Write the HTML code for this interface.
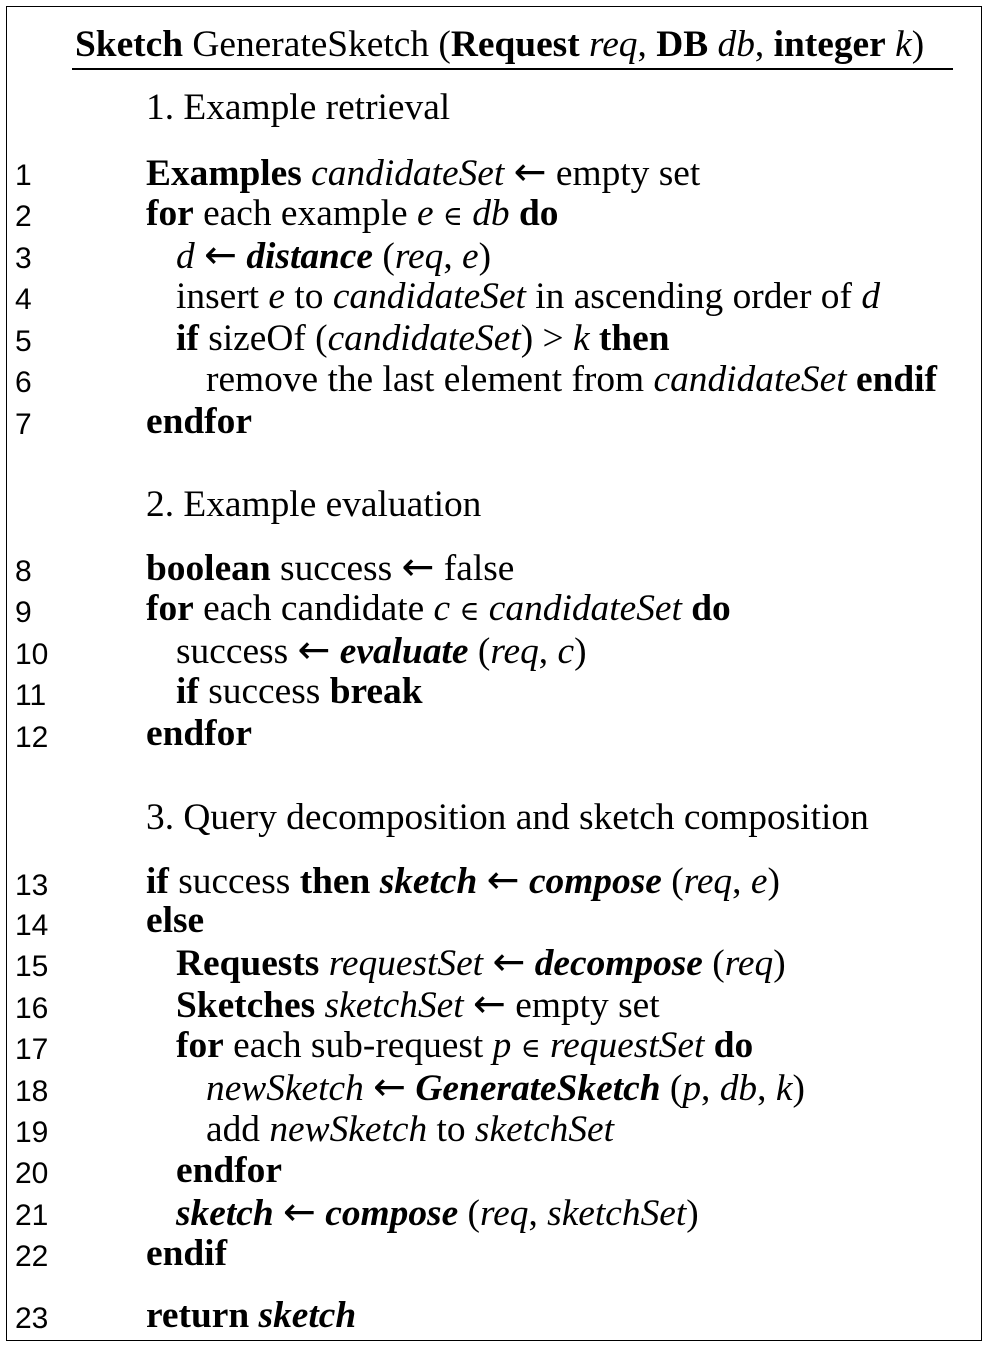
<!DOCTYPE html>
<html><head><meta charset="utf-8">
<style>
html,body{margin:0;padding:0;background:#fff;}
body{width:990px;height:1350px;position:relative;overflow:hidden;font-family:"Liberation Serif",serif;color:#000;}
#box{position:absolute;left:6px;top:6px;width:976px;height:1335px;border:1.5px solid #000;box-sizing:border-box;}
.t{position:absolute;white-space:nowrap;font-size:37.4px;line-height:40px;height:40px;}
.n{position:absolute;left:15px;font-family:"Liberation Sans",sans-serif;font-size:30px;line-height:40px;height:40px;}
#rule{position:absolute;left:72px;top:68px;width:881px;height:2px;background:#000;}
.a{font-family:"DejaVu Sans",sans-serif;font-weight:normal;font-style:normal;font-size:1.05em;line-height:1;}
.e{font-family:"DejaVu Serif",serif;font-style:normal;font-size:0.72em;line-height:1;}
</style></head><body>
<div id="box"></div>
<div class="t" style="left:75px;top:25px;"><b>Sketch</b> GenerateSketch (<b>Request</b> <i>req</i>, <b>DB</b> <i>db</i>, <b>integer</b> <i>k</i>)</div>
<div id="rule"></div>

<div class="t" style="left:146px;top:88px;">1. Example retrieval</div>
<div class="n" style="top:156px;">1</div>
<div class="t" style="left:146px;top:153px;"><b>Examples</b> <i>candidateSet</i> <span class="a">←</span> empty set</div>
<div class="n" style="top:197px;">2</div>
<div class="t" style="left:146px;top:194px;"><b>for</b> each example <i>e</i> <span class="e">∈</span> <i>db</i> <b>do</b></div>
<div class="n" style="top:239px;">3</div>
<div class="t" style="left:176px;top:236px;"><i>d</i> <span class="a">←</span> <b><i>distance</i></b> (<i>req</i>, <i>e</i>)</div>
<div class="n" style="top:280px;">4</div>
<div class="t" style="left:176px;top:277px;">insert <i>e</i> to <i>candidateSet</i> in ascending order of <i>d</i></div>
<div class="n" style="top:322px;">5</div>
<div class="t" style="left:176px;top:319px;"><b>if</b> sizeOf (<i>candidateSet</i>) &gt; <i>k</i> <b>then</b></div>
<div class="n" style="top:363px;">6</div>
<div class="t" style="left:206px;top:360px;">remove the last element from <i>candidateSet</i> <b>endif</b></div>
<div class="n" style="top:405px;">7</div>
<div class="t" style="left:146px;top:402px;"><b>endfor</b></div>

<div class="t" style="left:146px;top:485px;">2. Example evaluation</div>
<div class="n" style="top:552px;">8</div>
<div class="t" style="left:146px;top:548px;"><b>boolean</b> success <span class="a">←</span> false</div>
<div class="n" style="top:593px;">9</div>
<div class="t" style="left:146px;top:589px;"><b>for</b> each candidate <i>c</i> <span class="e">∈</span> <i>candidateSet</i> <b>do</b></div>
<div class="n" style="top:635px;">10</div>
<div class="t" style="left:176px;top:631px;">success <span class="a">←</span> <b><i>evaluate</i></b> (<i>req</i>, <i>c</i>)</div>
<div class="n" style="top:676px;">11</div>
<div class="t" style="left:176px;top:672px;"><b>if</b> success <b>break</b></div>
<div class="n" style="top:718px;">12</div>
<div class="t" style="left:146px;top:714px;"><b>endfor</b></div>

<div class="t" style="left:146px;top:798px;">3. Query decomposition and sketch composition</div>
<div class="n" style="top:866px;">13</div>
<div class="t" style="left:146px;top:861px;"><b>if</b> success <b>then</b> <b><i>sketch</i></b> <span class="a">←</span> <b><i>compose</i></b> (<i>req</i>, <i>e</i>)</div>
<div class="n" style="top:906px;">14</div>
<div class="t" style="left:146px;top:901px;"><b>else</b></div>
<div class="n" style="top:947px;">15</div>
<div class="t" style="left:176px;top:943px;"><b>Requests</b> <i>requestSet</i> <span class="a">←</span> <b><i>decompose</i></b> (<i>req</i>)</div>
<div class="n" style="top:989px;">16</div>
<div class="t" style="left:176px;top:985px;"><b>Sketches</b> <i>sketchSet</i> <span class="a">←</span> empty set</div>
<div class="n" style="top:1030px;">17</div>
<div class="t" style="left:176px;top:1026px;"><b>for</b> each sub-request <i>p</i> <span class="e">∈</span> <i>requestSet</i> <b>do</b></div>
<div class="n" style="top:1072px;">18</div>
<div class="t" style="left:206px;top:1068px;"><i>newSketch</i> <span class="a">←</span> <b><i>GenerateSketch</i></b> (<i>p</i>, <i>db</i>, <i>k</i>)</div>
<div class="n" style="top:1113px;">19</div>
<div class="t" style="left:206px;top:1110px;">add <i>newSketch</i> to <i>sketchSet</i></div>
<div class="n" style="top:1154px;">20</div>
<div class="t" style="left:176px;top:1151px;"><b>endfor</b></div>
<div class="n" style="top:1196px;">21</div>
<div class="t" style="left:176px;top:1193px;"><b><i>sketch</i></b> <span class="a">←</span> <b><i>compose</i></b> (<i>req</i>, <i>sketchSet</i>)</div>
<div class="n" style="top:1237px;">22</div>
<div class="t" style="left:146px;top:1234px;"><b>endif</b></div>
<div class="n" style="top:1299px;">23</div>
<div class="t" style="left:146px;top:1296px;"><b>return</b> <b><i>sketch</i></b></div>
</body></html>
